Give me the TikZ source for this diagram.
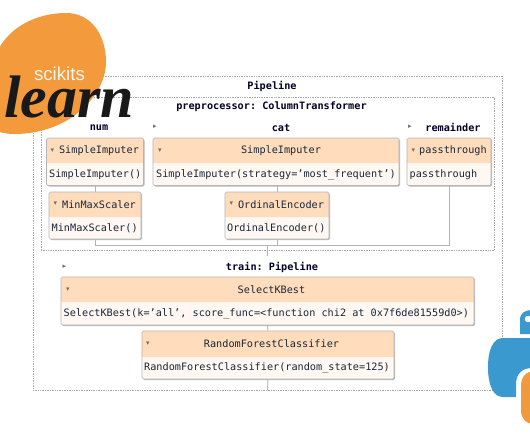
\documentclass[tikz,border=0pt]{standalone}
\usepackage{fontspec}
\usetikzlibrary{fit}
\setmainfont[Ligatures=NoCommon]{DejaVu Sans Mono}
\newfontfamily\logoserif{Liberation Serif}
\newfontfamily\logosans{Liberation Sans}
\frenchspacing
\definecolor{hdr}{HTML}{FFDDBC}
\definecolor{bodyc}{HTML}{FFF8F2}
\definecolor{lnc}{HTML}{B4B4B4}
\definecolor{dashc}{HTML}{A8A8A8}
\definecolor{txtc}{HTML}{18263A}
\definecolor{mark}{HTML}{707070}
\definecolor{sk}{HTML}{F29A3C}
\definecolor{pyb}{HTML}{3A99CE}
\definecolor{pyo}{HTML}{F09A3E}
\tikzset{
  x=1pt,y=-1pt,
  frame/.style={draw=dashc,densely dotted,line width=.7pt,inner sep=0pt},
  boxn/.style={draw=lnc,line width=.6pt,rounded corners=1.5pt,inner sep=0pt},
  wire/.style={draw=lnc,line width=.9pt},
  lbl/.style={font=\fontsize{10.2}{12}\selectfont\bfseries,text=black!85!blue,inner sep=0pt},
  hd/.style={font=\fontsize{10.2}{12}\selectfont,text=txtc,inner sep=0pt},
  bd/.style={font=\fontsize{10.2}{12}\selectfont,text=txtc,inner sep=0pt,anchor=west},
  tri/.style={font=\fontsize{7}{8}\selectfont,text=mark,inner sep=0pt},
}
\newcommand{\qs}{\symbol{39}}
% name x1 y1 x2 y2 yheader
\newcommand{\compbox}[6]{%
  \fill[black!28,rounded corners=1.5pt] (#2+1,#3+1) rectangle (#4+1,#5+1);
  \fill[bodyc,rounded corners=1.5pt] (#2,#3) rectangle (#4,#5);
  \fill[hdr,rounded corners=1.5pt] (#2,#3) rectangle (#4,#6);
  \fill[hdr] (#2,#6-3) rectangle (#4,#6);
  \node[boxn,fit={(#2,#3)(#4,#5)}] (#1) {};
}
\begin{document}
\begin{tikzpicture}
\useasboundingbox (0,0) rectangle (530,442);
\fill[white] (0,0) rectangle (530,442);
% frames
\node[frame,fit={(33,76)(502,390)}] (outer) {};
\node[frame,fit={(41,97)(494.5,250)}] (prep) {};
% titles
\node[lbl] (t1) at (272,86) {Pipeline};
\node[lbl] (t2) at (271.5,107) {preprocessor: ColumnTransformer};
\node[lbl] (t3) at (99,127.5) {num};
\node[lbl] (t4) at (281,127.5) {cat};
\node[lbl] (t5) at (453,127.5) {remainder};
\node[lbl] (t6) at (272,267) {train: Pipeline};
\node[tri] (m1) at (155,127) {\fontspec{DejaVu Sans}▸};
\node[tri] (m2) at (410,127) {\fontspec{DejaVu Sans}▸};
\node[tri] (m3) at (64.5,267) {\fontspec{DejaVu Sans}▸};
% components
\compbox{nsi}{46.5}{138}{143.5}{185.5}{163}
\node[tri] (m4) at (52.5,150.5) {\fontspec{DejaVu Sans}▾};
\node[hd] (h1) at (99,151) {SimpleImputer};
\node[bd] (b1) at (49,174.5) {SimpleImputer()};
\compbox{mm}{49}{192}{141}{239}{217}
\node[tri] (m5) at (55.5,204) {\fontspec{DejaVu Sans}▾};
\node[hd] (h2) at (99,205) {MinMaxScaler};
\node[bd] (b2) at (51.5,228) {MinMaxScaler()};
\compbox{csi}{153}{138}{399}{185.5}{163}
\node[tri] (m6) at (160,150.5) {\fontspec{DejaVu Sans}▾};
\node[hd] (h3) at (281,151) {SimpleImputer};
\node[bd] (b3) at (156,174.5) {SimpleImputer(strategy=\qs most\_frequent\qs)};
\compbox{oe}{225}{192}{329}{239}{217}
\node[tri] (m7) at (231.5,204) {\fontspec{DejaVu Sans}▾};
\node[hd] (h4) at (281,205) {OrdinalEncoder};
\node[bd] (b4) at (227,228) {OrdinalEncoder()};
\compbox{pt}{407}{138}{491}{185.5}{163}
\node[tri] (m8) at (413.5,150.5) {\fontspec{DejaVu Sans}▾};
\node[hd] (h5) at (453,151) {passthrough};
\node[bd] (b5) at (409.5,174.5) {passthrough};
\compbox{skb}{61}{277}{474}{325}{302}
\node[tri] (m9) at (68,289.5) {\fontspec{DejaVu Sans}▾};
\node[hd] (h6) at (271.5,290) {SelectKBest};
\node[bd] (b6) at (63.5,314) {SelectKBest(k=\qs all\qs, score\_func=<function chi2 at 0x7f6de81559d0>)};
\compbox{rf}{142}{331}{394}{379}{357}
\node[tri] (m10) at (148,343.5) {\fontspec{DejaVu Sans}▾};
\node[hd] (h7) at (271.5,344) {RandomForestClassifier};
\node[bd] (b7) at (144,368) {RandomForestClassifier(random\_state=125)};
% connectors
\coordinate (jn) at (267.75,245);
\coordinate (tail) at (267.75,256);
\draw[wire] (nsi.south) -- (mm.north);
\draw[wire] (csi.south -| oe.north) -- (oe.north);
\draw[wire] (mm.south) |- (jn);
\draw[wire] (oe.south) -- (oe.south |- jn);
\draw[wire] (pt.south) |- (jn);
\draw[wire] (jn) -- (tail);
\draw[wire] (skb.south) -- (rf.north);
\draw[wire] (rf.south) -- (outer.south);
% scikit-learn logo
\fill[sk] (-6,60) .. controls (4,28) and (36,13) .. (66,13)
  .. controls (92,13) and (106,36) .. (106,62)
  .. controls (106,95) and (70,134) .. (14,134)
  .. controls (4,134) and (-6,131) .. (-6,128) -- cycle;
\node[inner sep=0pt,text=white!92!sk,font=\logosans\fontsize{18.7}{20}\selectfont] (sci) at (59.5,73.5) {scikits};
\node[inner sep=0pt,anchor=base west,text=black!90,font=\logoserif\bfseries\itshape\fontsize{60}{62}\selectfont] (lrn) at (4,117) {learn};
% python logo
\begin{scope}
\clip (470,300) rectangle (530,442);
\fill[pyb,even odd rule] (532,310) .. controls (525,310) and (520,313) .. (520,320) -- (520,334) -- (532,334) -- cycle
  (528,319) circle [radius=3.4];
\fill[pyb] (532,338) -- (503,338) .. controls (493,338) and (488,350) .. (488,367)
  .. controls (488,385) and (493,397) .. (503,397) -- (516,397) -- (516,384)
  .. controls (516,374) and (522,368) .. (532,368) -- cycle;
\fill[pyo] (535,371) .. controls (526,371) and (521,377) .. (521,386) -- (521,410)
  .. controls (521,418) and (525,424) .. (535,424) -- cycle;
\end{scope}
\end{tikzpicture}
\end{document}
